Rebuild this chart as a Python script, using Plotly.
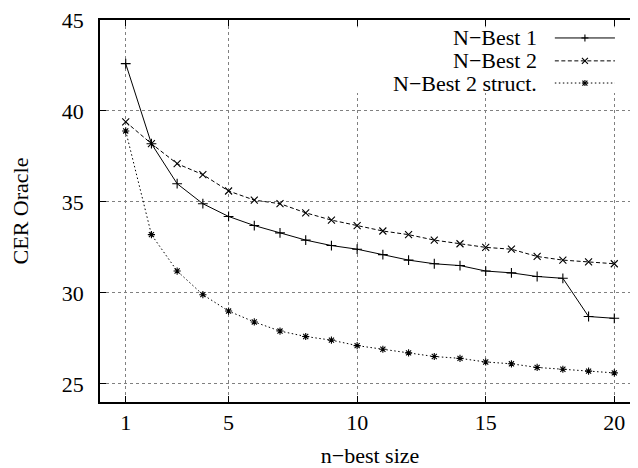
import plotly.graph_objects as go

n_best = list(range(1, 21))
nbest1 = [42.6, 38.2, 36.0, 34.9, 34.2, 33.7, 33.3, 32.9, 32.6, 32.4,
          32.1, 31.8, 31.6, 31.5, 31.2, 31.1, 30.9, 30.8, 28.7, 28.6]
nbest2 = [39.4, 38.2, 37.1, 36.5, 35.6, 35.1, 34.9, 34.4, 34.0, 33.7,
          33.4, 33.2, 32.9, 32.7, 32.5, 32.4, 32.0, 31.8, 31.7, 31.6]
nbest2_struct = [38.9, 33.2, 31.2, 29.9, 29.0, 28.4, 27.9, 27.6, 27.4, 27.1,
                 26.9, 26.7, 26.5, 26.4, 26.2, 26.1, 25.9, 25.8, 25.7, 25.6]
series_names = ["N\u2212Best 1", "N\u2212Best 2", "N\u2212Best 2 struct."]
x_ticks = [1, 5, 10, 15, 20]
y_ticks = [25, 30, 35, 40, 45]

FONT = "Liberation Serif"
LW = 1.0
styles = [
    dict(dash="solid", symbol="cross-thin-open", size=7,
         glyph=[(-3.5, 0, 3.5, 0), (0, -3.5, 0, 3.5)]),
    dict(dash="4px,2.5px", symbol="x-thin-open", size=7,
         glyph=[(-3, -3, 3, 3), (-3, 3, 3, -3)]),
    dict(dash="1.5px,2.5px", symbol="asterisk-open", size=6,
         glyph=[(-3, 0, 3, 0), (0, -3, 0, 3), (-2.5, -2.5, 2.5, 2.5), (-2.5, 2.5, 2.5, -2.5)]),
]

fig = go.Figure()
for name, ys, st in zip(series_names, [nbest1, nbest2, nbest2_struct], styles):
    fig.add_trace(go.Scatter(
        x=n_best, y=ys, mode="lines+markers", name=name, showlegend=False,
        line=dict(color="black", width=LW, dash=st["dash"]),
        marker=dict(symbol=st["symbol"], size=st["size"], color="black",
                    line=dict(color="black", width=1.1)),
    ))

# gnuplot-style legend: opaque box, right-aligned text, sample on the right
legend_rows = [0.953, 0.893, 0.835]
fig.add_shape(type="rect", xref="paper", yref="paper", x0=0.38, x1=1.01,
              y0=0.809, y1=0.981, fillcolor="white", line=dict(width=0),
              layer="above")
for name, st, ry in zip(series_names, styles, legend_rows):
    fig.add_shape(type="line", xref="paper", yref="paper",
                  x0=0.8423, x1=0.9536, y0=ry, y1=ry, layer="above",
                  line=dict(color="black", width=LW, dash=st["dash"]))
    for (gx0, gy0, gx1, gy1) in st["glyph"]:
        fig.add_shape(type="line", xref="paper", yref="paper",
                      xsizemode="pixel", ysizemode="pixel",
                      xanchor=0.898, yanchor=ry,
                      x0=gx0, x1=gx1, y0=gy0, y1=gy1, layer="above",
                      line=dict(color="black", width=1.1))
    fig.add_annotation(x=0.8126, y=ry, xref="paper", yref="paper",
                       text=name, showarrow=False, xanchor="right",
                       yanchor="middle",
                       font=dict(family=FONT, size=22, color="black"))

axis_common = dict(
    showline=True, linecolor="black", linewidth=1.5, mirror="ticks",
    ticks="inside", ticklen=6, tickwidth=1, tickcolor="black",
    showgrid=True, gridcolor="#808080", griddash="dot", gridwidth=1,
    zeroline=False, ticklabeloverflow="allow",
    tickfont=dict(family=FONT, size=22, color="black"),
)

# page body has an 8px margin; figure sized so that the plot area lands
# at the same place as in the reference
fig.update_layout(
    width=632, height=460,
    margin=dict(l=92, r=0, t=12, b=66, autoexpand=False),
    paper_bgcolor="white", plot_bgcolor="white",
    font=dict(family=FONT, size=22, color="black"),
    xaxis=dict(range=[0, 21], tickvals=x_ticks, ticklabelstandoff=0,
               title=dict(text="n\u2212best size", standoff=19,
                          font=dict(family=FONT, size=22)),
               **axis_common),
    yaxis=dict(range=[24, 45], tickvals=y_ticks, ticklabelstandoff=10,
               title=dict(text="CER Oracle", standoff=30,
                          font=dict(family=FONT, size=22)),
               **axis_common),
)

fig.write_html("out.html")
